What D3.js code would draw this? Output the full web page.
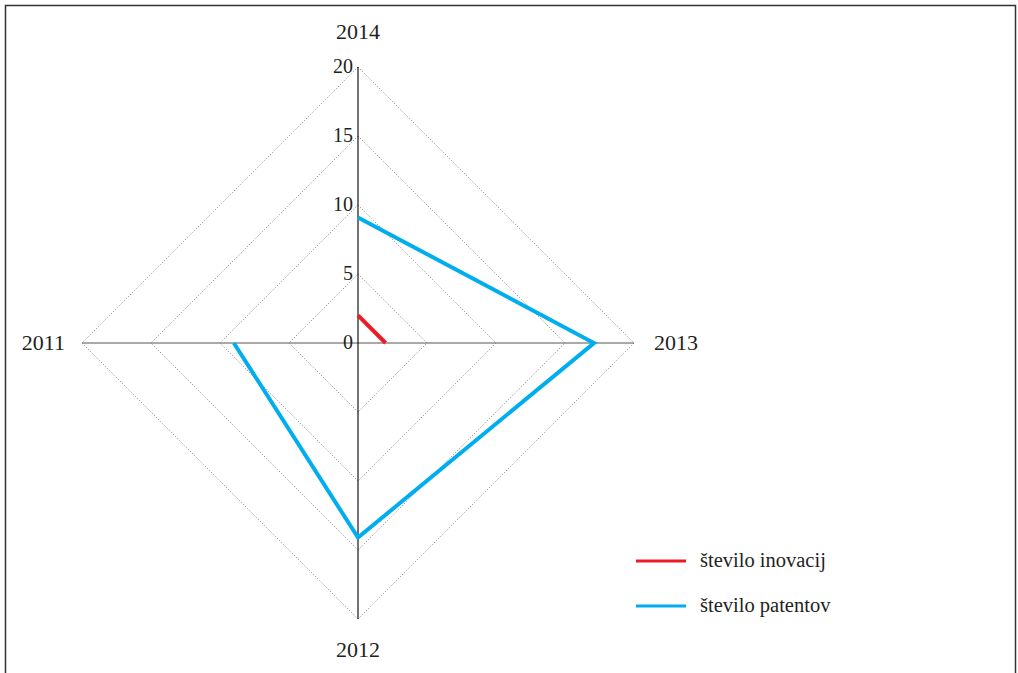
<!DOCTYPE html>
<html><head><meta charset="utf-8">
<script src="https://cdn.jsdelivr.net/npm/d3@7"></script>
<style>body{margin:0;background:#fff}svg{display:block}text{font-family:"Liberation Serif","DejaVu Serif",serif;fill:#231f20}</style>
</head><body>
<svg id="c" width="1018" height="673"></svg>
<script>
const categories = ["2014","2013","2012","2011"];
const inovacije = [2, 2, null, null];
const patenti = [9.1, 17.1, 14.1, 9.0];
const ticks = [0,5,10,15,20];
const seriesNames = ["število inovacij","število patentov"];
const seriesColors = ["#ED1C24","#00AEEF"];

const svg = d3.select("#c");
svg.append("rect").attr("x",5.5).attr("y",5.5).attr("width",1010).attr("height",700)
  .attr("fill","none").attr("stroke","#333").attr("stroke-width",1.5);

const cx = 358, cy = 343;
const r = d3.scaleLinear().domain([0,20]).range([0,276]);
const ang = d3.scalePoint().domain(categories).range([0, 2*Math.PI*(categories.length-1)/categories.length]);
const pt = (c,v) => { const a = ang(c); return [cx + r(v)*Math.sin(a), cy - r(v)*Math.cos(a)]; };

const g = svg.append("g");
// grid
ticks.filter(t=>t>0).forEach(t=>{
  g.append("polygon").attr("points", categories.map(c=>pt(c,t).join(",")).join(" "))
    .attr("fill","none").attr("stroke","#888").attr("stroke-width",0.9).attr("stroke-dasharray","1.2,1.8");
});
// axes
const p14 = pt("2014",20), p12 = pt("2012",20), p13 = pt("2013",20), p11 = pt("2011",20);
g.append("line").attr("x1",p11[0]).attr("y1",p11[1]).attr("x2",p13[0]).attr("y2",p13[1]).attr("stroke","#555").attr("stroke-width",1);
g.append("line").attr("x1",p14[0]).attr("y1",p14[1]).attr("x2",p12[0]).attr("y2",p12[1]).attr("stroke","#000").attr("stroke-width",1.1);

// tick labels
ticks.forEach(t=>{
  const p = pt("2014",t);
  g.append("text").attr("x",p[0]-5).attr("y",p[1]+6).attr("text-anchor","end").attr("font-size",20).text(t);
});
// category labels
const lab = {"2014":[0,-28,"middle"],"2013":[20,7,"start"],"2012":[0,38,"middle"],"2011":[-17,7,"end"]};
categories.forEach(c=>{
  const p = pt(c,20), o = lab[c];
  g.append("text").attr("x",p[0]+o[0]).attr("y",p[1]+o[1]).attr("text-anchor",o[2]).attr("font-size",22).text(c);
});

// series (open paths, as in the reference)
const line = d3.line().defined(d=>d.v!=null).x(d=>pt(d.c,d.v)[0]).y(d=>pt(d.c,d.v)[1]);
[inovacije, patenti].forEach((vals,i)=>{
  const data = categories.map((c,j)=>({c, v: vals[j]}));
  g.append("path").attr("d", line(data)).attr("fill","none").attr("stroke",seriesColors[i])
    .attr("stroke-width",4).attr("stroke-linejoin","miter");
});

// legend
seriesNames.forEach((n,i)=>{
  const y = 561 + i*45;
  svg.append("line").attr("x1",636).attr("x2",686).attr("y1",y).attr("y2",y).attr("stroke",seriesColors[i]).attr("stroke-width",3);
  svg.append("text").attr("x",700).attr("y",y+6).attr("font-size",20.5).text(n);
});
</script>
</body></html>
